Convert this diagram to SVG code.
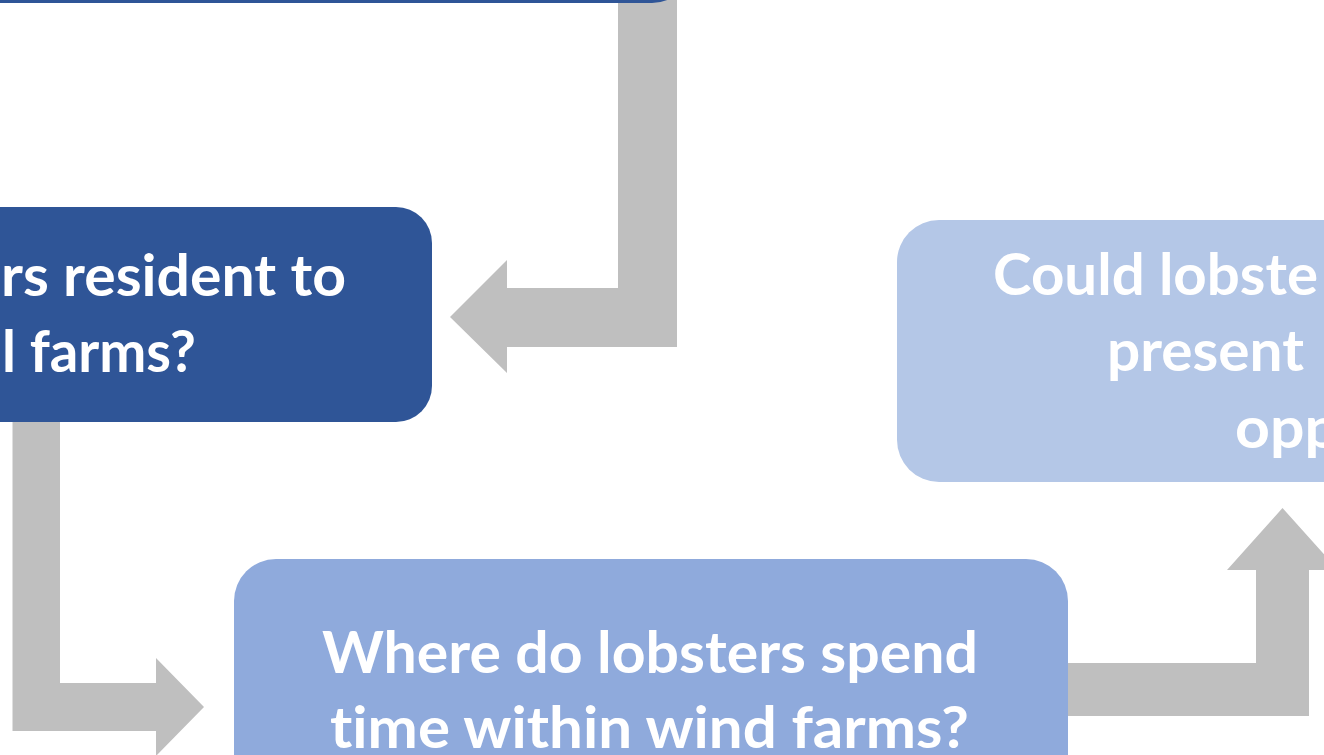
<svg xmlns="http://www.w3.org/2000/svg" width="1324" height="755" viewBox="0 0 1324 755">
  <style>
    .conn { fill: #BFBFBF; }
    .dark { fill: #2F5597; }
    .mid { fill: #8FAADC; }
    .light { fill: #B4C7E7; }
    .lbl { fill: #FFFFFF; font-family: Lato, "Open Sans", "Liberation Sans", sans-serif; font-weight: bold; font-size: 58px; font-variant-ligatures: none; font-feature-settings: "liga" 0, "clig" 0; }
  </style>
  <rect width="1324" height="755" fill="#FFFFFF"/>
  <g id="connectors">
    <polygon class="conn" points="618,0 677,0 677,347 507,347 507,373 450,317 507,260 507,288 618,288"/>
    <polygon class="conn" points="12.5,410 60,410 60,683 156,683 156,658 204,707 156,756 156,731 12.5,731"/>
    <polygon class="conn" points="1060,663 1256,663 1256,570 1227,570 1282.5,508 1338,570 1309,570 1309,716 1060,716"/>
  </g>
  <g id="node-top">
    <rect class="dark" x="-100" y="-200" width="792" height="203" rx="40" ry="40"/>
  </g>
  <g id="node-resident">
    <rect class="dark" x="-60" y="207" width="492" height="215" rx="36" ry="36"/>
    <text class="lbl" x="1" y="296" textLength="345" lengthAdjust="spacingAndGlyphs">rs resident to</text>
    <text class="lbl" x="2" y="372" textLength="194" lengthAdjust="spacingAndGlyphs">l farms?</text>
  </g>
  <g id="node-where">
    <rect class="mid" x="234" y="559" width="834" height="260" rx="42" ry="42"/>
    <text class="lbl" x="322" y="673" textLength="656" lengthAdjust="spacingAndGlyphs">Where do lobsters spend</text>
    <text class="lbl" x="330" y="748" textLength="639" lengthAdjust="spacingAndGlyphs">time within wind farms?</text>
  </g>
  <g id="node-could">
    <rect class="light" x="897" y="220" width="520" height="262" rx="42" ry="42"/>
    <text class="lbl" x="993" y="295" textLength="325" lengthAdjust="spacingAndGlyphs">Could lobste</text>
    <text class="lbl" x="1107" y="371" textLength="197" lengthAdjust="spacingAndGlyphs">present</text>
    <text class="lbl" x="1235" y="448" textLength="104" lengthAdjust="spacingAndGlyphs">opp</text>
  </g>
</svg>
